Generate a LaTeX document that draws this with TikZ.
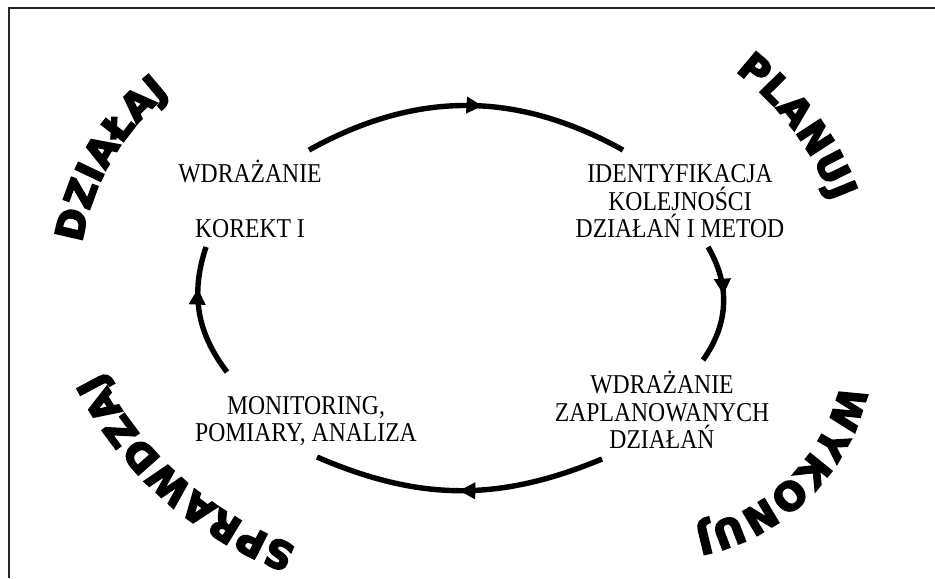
\documentclass[tikz,border=0pt]{standalone}
\usepackage{fontspec}
\setmainfont{Liberation Serif}[FakeStretch=0.87]
\newfontfamily\wordart[FakeBold=5]{DejaVu Sans Bold}
\usepackage{tikz}
\usetikzlibrary{arrows.meta,decorations.markings,decorations.text}

\tikzset{
  cycle arrow/.style={line width=2.7pt,
    decoration={markings, mark=at position #1 with {\arrow{Triangle[length=8pt,width=8pt]}}},
    postaction={decorate}},
  phase/.style={align=center, font=\fontsize{13.6}{13.75}\selectfont, inner sep=0pt},
  arch/.style={decorate, decoration={text along path, text align={fit to path},
    text={|\wordart\fontsize{19}{19}\selectfont|#1}}}
}

\begin{document}
\begin{tikzpicture}[x=0.5pt,y=0.5pt]
  \useasboundingbox (0,0) rectangle (935,-578);
  % Frame
  \draw[line width=1pt, black!85] (935,-8) -- (9,-8) -- (9,-578);
  % Nodes
  \node[phase] (korekta) at (250,-199) {WDRAŻANIE\\[13.75pt]KOREKT I};
  \node[phase] (plan) at (680,-201.5) {IDENTYFIKACJA\\KOLEJNOŚCI\\DZIAŁAŃ I METOD};
  \node[phase] (wykonanie) at (662,-410) {WDRAŻANIE\\ZAPLANOWANYCH\\DZIAŁAŃ};
  \node[phase] (analiza) at (306,-421) {MONITORING,\\POMIARY, ANALIZA};
  % Arc ends
  \coordinate (k1) at (309,-150);
  \coordinate (p1) at (623,-150);
  \coordinate (p2) at (708,-247);
  \coordinate (w1) at (703,-360);
  \coordinate (w2) at (602,-459);
  \coordinate (a1) at (317,-457);
  \coordinate (a2) at (227,-372);
  \coordinate (k2) at (206,-247);
  % Edges
  \draw[cycle arrow=0.55] (k1) to[bend left=29] (p1);
  \draw[cycle arrow=0.42] (p2) to[bend left=33] (w1);
  \draw[cycle arrow=0.5] (w2) to[bend left=23] (a1);
  \draw[cycle arrow=0.68] (a2) to[bend left=28] (k2);
  % Words
  \path[arch=PLANUJ] ([shift={(555,-307)}]52.6:297) arc[start angle=52.6, end angle=20.8, radius=297];
  \path[arch=DZIAŁAJ] ([shift={(317,-280)}]171:238) arc[start angle=171, end angle=128.4, radius=238];
  \path[arch=SPRAWDZAJ] ([shift={(419,-210)}]250:358) arc[start angle=250, end angle=207, radius=358];
  \path[arch=WYKONUJ] ([shift={(657,-344)}]-12.5:188) arc[start angle=-12.5, end angle=-78.5, radius=188];
\end{tikzpicture}
\end{document}
